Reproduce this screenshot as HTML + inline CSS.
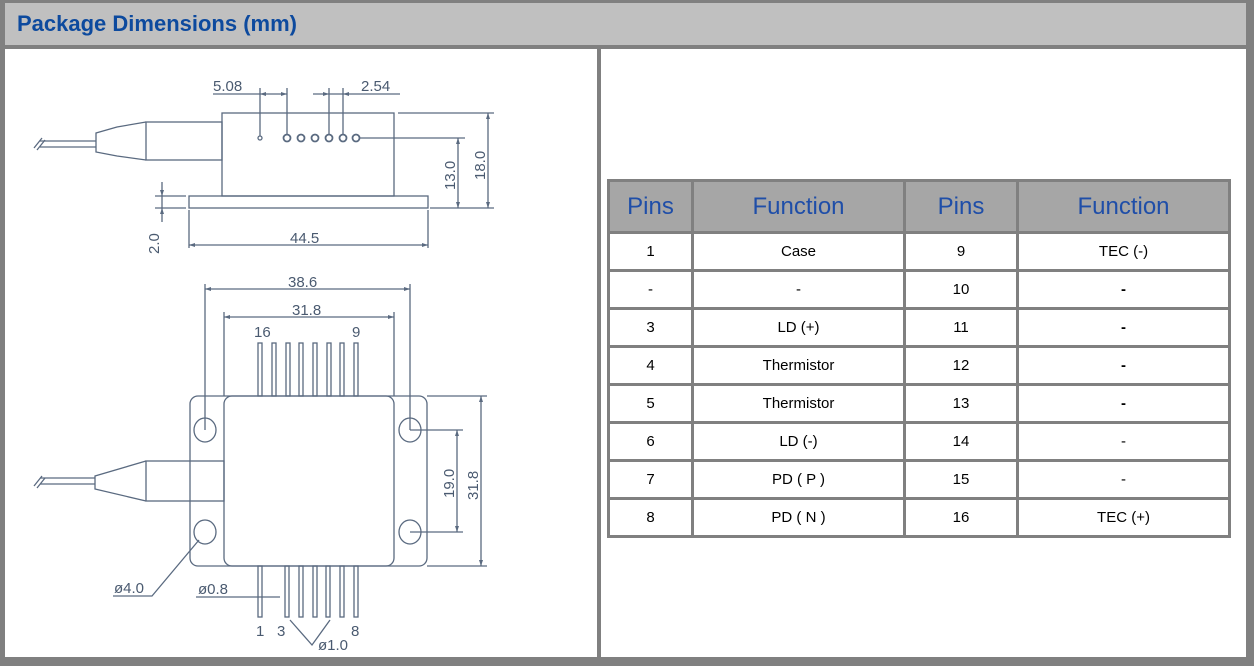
<!DOCTYPE html>
<html><head><meta charset="utf-8"><style>
html,body{margin:0;padding:0;}
body{width:1254px;height:666px;position:relative;background:#808080;font-family:"Liberation Sans",sans-serif;overflow:hidden;}
#hdr{position:absolute;left:5px;top:3px;width:1241px;height:42px;background:#c0c0c0;}
#hdr span{position:absolute;left:12px;top:8px;font-size:22px;font-weight:bold;color:#0d4a9e;}
#lp{position:absolute;left:5px;top:49px;width:592px;height:608px;background:#fff;}
#rp{position:absolute;left:601px;top:49px;width:645px;height:608px;background:#fff;}
table{position:absolute;left:607px;top:179px;border-collapse:collapse;border:3px solid #808080;table-layout:fixed;width:621px;}
td,th{border:3px solid #808080;padding:0;text-align:center;font-size:15px;color:#000;height:35px;}
th{background:#a6a6a6;color:#1f4ea8;font-weight:normal;font-size:24px;height:49px;}
svg{position:absolute;left:0;top:0;}
svg text{font-family:"Liberation Sans",sans-serif;fill:#4a5a70;font-size:15px;}
</style></head><body>
<div id="hdr"><span>Package Dimensions (mm)</span></div>
<div id="lp"></div><div id="rp"></div>
<table>
<colgroup><col style="width:84px"><col style="width:212px"><col style="width:113px"><col style="width:212px"></colgroup>
<tr><th>Pins</th><th>Function</th><th>Pins</th><th>Function</th></tr>
<tr><td>1</td><td>Case</td><td>9</td><td>TEC (-)</td></tr>
<tr><td>-</td><td>-</td><td>10</td><td><b>-</b></td></tr>
<tr><td>3</td><td>LD (+)</td><td>11</td><td><b>-</b></td></tr>
<tr><td>4</td><td>Thermistor</td><td>12</td><td><b>-</b></td></tr>
<tr><td>5</td><td>Thermistor</td><td>13</td><td><b>-</b></td></tr>
<tr><td>6</td><td>LD (-)</td><td>14</td><td>-</td></tr>
<tr><td>7</td><td>PD ( P )</td><td>15</td><td>-</td></tr>
<tr><td>8</td><td>PD ( N )</td><td>16</td><td>TEC (+)</td></tr>
</table>
<svg width="600" height="666" viewBox="0 0 600 666" fill="none" stroke="#5a6a80" stroke-width="1.3">
<rect x="222" y="113" width="172" height="83"/>
<rect x="189" y="196" width="239" height="12"/>
<rect x="146" y="122" width="76" height="38"/>
<path d="M146 122 L117 127 L96 133 L96 152 L117 156 L146 160"/>
<line x1="40" y1="141" x2="96" y2="141"/><line x1="40" y1="147" x2="96" y2="147"/>
<path d="M34 148 L42 138 M37 150 L45 140"/>
<circle cx="260" cy="138" r="2"/>
<g stroke-width="1.8"><circle cx="287" cy="138" r="3.5"/><circle cx="301" cy="138" r="3.5"/><circle cx="315" cy="138" r="3.5"/><circle cx="329" cy="138" r="3.5"/><circle cx="343" cy="138" r="3.5"/><circle cx="356" cy="138" r="3.5"/></g>
<line x1="260" y1="88" x2="260" y2="136"/><line x1="287" y1="88" x2="287" y2="134"/>
<line x1="213" y1="94" x2="287" y2="94"/>
<line x1="329" y1="88" x2="329" y2="134"/><line x1="343" y1="88" x2="343" y2="134"/>
<line x1="313" y1="94" x2="400" y2="94"/>
<line x1="360" y1="138" x2="465" y2="138"/><line x1="398" y1="113" x2="494" y2="113"/><line x1="430" y1="208" x2="494" y2="208"/>
<line x1="458" y1="138" x2="458" y2="208"/><line x1="488" y1="113" x2="488" y2="208"/>
<line x1="155" y1="196" x2="186" y2="196"/><line x1="155" y1="208" x2="186" y2="208"/>
<line x1="162" y1="182" x2="162" y2="222"/>
<line x1="189" y1="210" x2="189" y2="248"/><line x1="428" y1="210" x2="428" y2="248"/>
<line x1="189" y1="245" x2="428" y2="245"/>
<rect x="190" y="396" width="237" height="170" rx="8"/>
<rect x="224" y="396" width="170" height="170" rx="8"/>
<ellipse cx="205" cy="430" rx="11" ry="12"/><ellipse cx="410" cy="430" rx="11" ry="12"/>
<ellipse cx="205" cy="532" rx="11" ry="12"/><ellipse cx="410" cy="532" rx="11" ry="12"/>
<rect x="146" y="461" width="78" height="40"/>
<path d="M146 461 L95 476 L95 489 L146 501"/>
<line x1="40" y1="478" x2="95" y2="478"/><line x1="40" y1="484" x2="95" y2="484"/>
<path d="M34 486 L42 476 M37 488 L45 478"/>
<g>
<rect x="258" y="343" width="4" height="53"/><rect x="272" y="343" width="4" height="53"/><rect x="286" y="343" width="4" height="53"/><rect x="299" y="343" width="4" height="53"/><rect x="313" y="343" width="4" height="53"/><rect x="327" y="343" width="4" height="53"/><rect x="340" y="343" width="4" height="53"/><rect x="354" y="343" width="4" height="53"/>
<rect x="258" y="566" width="4" height="51"/><rect x="285" y="566" width="4" height="51"/><rect x="299" y="566" width="4" height="51"/><rect x="313" y="566" width="4" height="51"/><rect x="326" y="566" width="4" height="51"/><rect x="340" y="566" width="4" height="51"/><rect x="354" y="566" width="4" height="51"/>
</g>
<line x1="205" y1="284" x2="205" y2="430"/><line x1="410" y1="284" x2="410" y2="430"/>
<line x1="205" y1="289" x2="410" y2="289"/>
<line x1="224" y1="312" x2="224" y2="396"/><line x1="394" y1="312" x2="394" y2="396"/>
<line x1="224" y1="317" x2="394" y2="317"/>
<line x1="410" y1="430" x2="463" y2="430"/><line x1="410" y1="532" x2="463" y2="532"/>
<line x1="457" y1="430" x2="457" y2="532"/>
<line x1="427" y1="396" x2="487" y2="396"/><line x1="427" y1="566" x2="487" y2="566"/>
<line x1="481" y1="396" x2="481" y2="566"/>
<path d="M113 596 L152 596 L199 540"/>
<line x1="196" y1="597" x2="280" y2="597"/>
<path d="M290 620 L312 645 L330 620"/>
<g fill="#5a6a80" stroke="none">
<path d="M287 94 l-6 -2 v4z M260 94 l6 -2 v4z M329 94 l-6 -2 v4z M343 94 l6 -2 v4z"/>
<path d="M458 138 l-2 6 h4z M458 208 l-2 -6 h4z M488 113 l-2 6 h4z M488 208 l-2 -6 h4z"/>
<path d="M162 196 l-2 -6 h4z M162 208 l-2 6 h4z"/>
<path d="M189 245 l6 -2 v4z M428 245 l-6 -2 v4z M205 289 l6 -2 v4z M410 289 l-6 -2 v4z M224 317 l6 -2 v4z M394 317 l-6 -2 v4z"/>
<path d="M457 430 l-2 6 h4z M457 532 l-2 -6 h4z M481 396 l-2 6 h4z M481 566 l-2 -6 h4z"/>
</g>
</svg>
<svg width="600" height="666" viewBox="0 0 600 666">
<text x="213" y="91">5.08</text>
<text x="361" y="91">2.54</text>
<text x="290" y="243">44.5</text>
<text x="288" y="287">38.6</text>
<text x="292" y="315">31.8</text>
<text x="254" y="337" font-size="12">16</text>
<text x="352" y="337" font-size="12">9</text>
<text x="114" y="593">ø4.0</text>
<text x="198" y="594">ø0.8</text>
<text x="256" y="636" font-size="13">1</text>
<text x="277" y="636" font-size="13">3</text>
<text x="351" y="636" font-size="13">8</text>
<text x="318" y="650" font-size="12">ø1.0</text>
<text transform="translate(455,190) rotate(-90)">13.0</text>
<text transform="translate(485,180) rotate(-90)">18.0</text>
<text transform="translate(159,254) rotate(-90)">2.0</text>
<text transform="translate(454,498) rotate(-90)">19.0</text>
<text transform="translate(478,500) rotate(-90)">31.8</text>
</svg>
</body></html>
